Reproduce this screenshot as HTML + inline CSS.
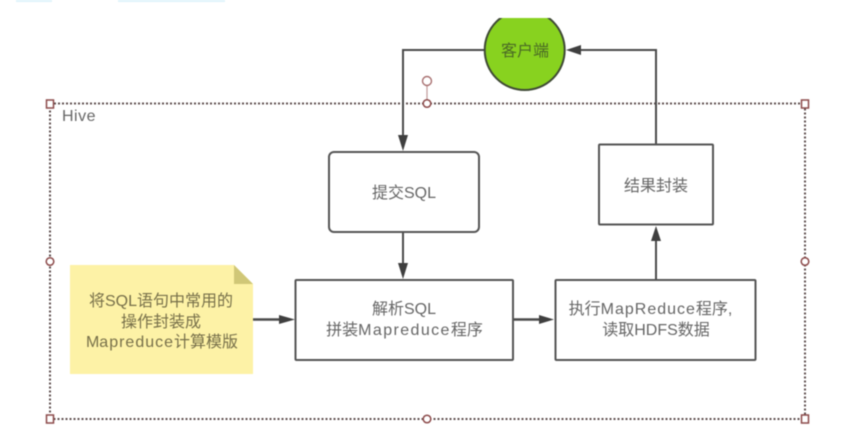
<!DOCTYPE html>
<html lang="zh">
<head>
<meta charset="utf-8">
<style>
html,body{margin:0;padding:0;background:#fff;width:856px;height:444px;overflow:hidden}
svg{display:block;filter:blur(.6px)}
text{font-family:"Liberation Sans","Noto Sans CJK SC",sans-serif;font-size:16px;fill:#666;text-anchor:middle}
</style>
</head>
<body>
<svg width="856" height="444" viewBox="0 0 856 444" xmlns="http://www.w3.org/2000/svg">
<rect x="16" y="0" width="36" height="2" fill="#dff3fb"/>
<rect x="118" y="0" width="107" height="2" fill="#dff3fb"/>

<!-- Hive frame -->
<rect x="50" y="103.500" width="755" height="315.500" fill="none" stroke="#5f4f4f" stroke-width="2" stroke-dasharray="2 2"/>
<text x="62" y="121" style="font-size:16px;letter-spacing:.5px;text-anchor:start">Hive</text>

<!-- rotation handle -->
<line x1="427" y1="85" x2="427" y2="100" stroke="#c09a9a" stroke-width="1.2"/>
<circle cx="427" cy="81" r="4.500" fill="#fff" stroke="#a87070" stroke-width="1.400"/>

<!-- handles -->
<g fill="#fff" stroke="#8c4a4a" stroke-width="1.500">
<rect x="46.500" y="100" width="7" height="8"/>
<rect x="801.500" y="100" width="7" height="8"/>
<rect x="46.500" y="415" width="7" height="8"/>
<rect x="801.500" y="415" width="7" height="8"/>
<circle cx="427" cy="103.500" r="3.800"/>
<circle cx="50" cy="261.500" r="3.800"/>
<circle cx="805" cy="261.500" r="3.800"/>
<circle cx="427" cy="419" r="3.800"/>
</g>

<!-- connectors -->
<g fill="none" stroke="#4a4a4a" stroke-width="2">
<path d="M484 50H403V137"/>
<path d="M656 144V50H580"/>
<path d="M403 232V268"/>
<path d="M656 280V238"/>
<path d="M253 319.500H282" stroke-width="2.400"/>
<path d="M513 319.500H543" stroke-width="2.400"/>
</g>
<g fill="#3f3f3f">
<polygon points="403,151 398,135 408,135"/>
<polygon points="566,50 581,45 581,55"/>
<polygon points="403,279 398,263 408,263"/>
<polygon points="656,226 651,241 661,241"/>
<polygon points="295,319.500 279,315 279,324"/>
<polygon points="554,319.500 539,315 539,324"/>
</g>

<!-- client -->
<clipPath id="c"><rect x="470" y="18" width="110" height="80"/></clipPath>
<circle cx="524.700" cy="50" r="40" fill="#88d21f" stroke="#3f4a35" stroke-width="2" clip-path="url(#c)"/>
<text x="525" y="56" style="fill:#4a6a25;font-size:16px">客户端</text>

<!-- boxes -->
<g fill="#fff" stroke="#555" stroke-width="2">
<rect x="329" y="152" width="150" height="80" rx="5"/>
<rect x="599" y="144.500" width="114" height="80" rx="1"/>
<rect x="295.500" y="280" width="217.500" height="80" rx="1"/>
<rect x="555.500" y="280" width="200" height="80" rx="1"/>
</g>
<text x="404" y="198">提交SQL</text>
<text x="656" y="191">结果封装</text>
<text x="404" y="314">解析SQL</text>
<text x="404.500" y="335">拼装<tspan letter-spacing="1.400">Mapreduce</tspan>程序</text>
<text x="650.500" y="314">执行<tspan letter-spacing="1">MapReduce</tspan>程序,</text>
<text x="656" y="335">读取HDFS数据</text>

<!-- note -->
<polygon points="70,265 234,265 253,284 253,374 70,374" fill="#fdf2a6"/>
<polygon points="234,265 253,284 234,284" fill="#d0c777"/>
<text x="161" y="306" style="fill:#77704a">将SQL语句中常用的</text>
<text x="161" y="327" style="fill:#77704a">操作封装成</text>
<text x="162" y="347" style="fill:#77704a">M<tspan letter-spacing="1">apreduce</tspan>计算模版</text>
</svg>
</body>
</html>
